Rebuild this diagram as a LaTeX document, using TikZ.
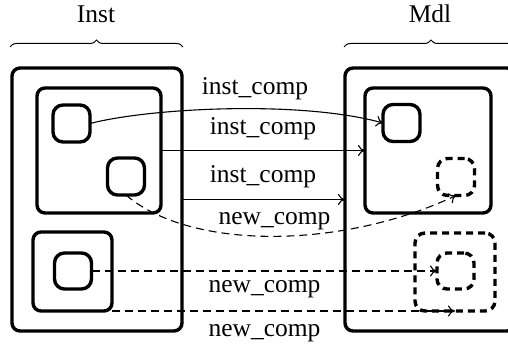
\documentclass[tikz,border=0pt]{standalone}
\usepackage{fontspec}
\setmainfont{Liberation Serif}
\usetikzlibrary{arrows.meta,decorations.pathreplacing}
\begin{document}
\begin{tikzpicture}[x=1pt,y=-1pt,
  box/.style={draw,line width=3.4pt,rounded corners=8pt,inner sep=0pt,outer sep=0pt},
  sq/.style={draw,line width=3.4pt,rounded corners=10pt,inner sep=0pt,outer sep=0pt},
  dsq/.style={sq,dash pattern=on 7pt off 5pt},
  conn/.style={line width=1.1pt,-{To[length=7pt,width=11pt]}},
  dconn/.style={conn,dash pattern=on 8pt off 5pt},
  lbl/.style={inner sep=0pt,anchor=base,font=\fontsize{25.5}{30}\selectfont},
  brc/.style={decorate,decoration={brace,amplitude=7pt},line width=1pt}]
\useasboundingbox (0,0) rectangle (508,344);
\clip (0,0) rectangle (508,344);
% left side
\node[box,minimum width=170pt,minimum height=263pt] (L) at (97,199.5) {};
\node[box,minimum width=124pt,minimum height=125pt] (LA) at (99,150.5) {};
\node[sq,minimum width=37pt,minimum height=37pt] (s1) at (71.5,123.5) {};
\node[sq,minimum width=37pt,minimum height=37pt] (s2) at (126,176.5) {};
\node[box,minimum width=79pt,minimum height=79pt] (LB) at (72.5,271.5) {};
\node[sq,minimum width=37pt,minimum height=36pt] (s3) at (73,271) {};
% right side
\node[box,minimum width=170pt,minimum height=263pt] (R) at (430,199.5) {};
\node[box,minimum width=126pt,minimum height=125pt] (RA) at (428,150.5) {};
\node[sq,minimum width=37pt,minimum height=37pt] (r1) at (401.5,123) {};
\node[dsq,minimum width=37pt,minimum height=37pt] (r2) at (456,177) {};
\node[dsq,minimum width=80pt,minimum height=78pt] (RB) at (455,272) {};
\node[dsq,minimum width=37pt,minimum height=36pt] (r4) at (455.5,271) {};
% braces and titles
\coordinate (bl1) at (10,47);
\coordinate (bl2) at (183,47);
\coordinate (br1) at (344,47);
\coordinate (br2) at (518,47);
\draw[brc] (bl1) -- (bl2);
\draw[brc] (br1) -- (br2);
\node[lbl] (tInst) at (96,23) {Inst};
\node[lbl] (tMdl) at (430,23) {Mdl};
% connectors
\draw[conn] (s1.east) .. controls (150,108) and (300,100) .. (r1.west);
\draw[conn] (LA.east) -- (RA.west);
\draw[conn] (L.east) -- (R.west);
\draw[dconn] (s2.south) .. controls (190,250) and (340,250) .. (r2.south);
\draw[dconn] (s3.east) -- (r4.west);
\draw[dconn] (LB.south) -- (RB.south);
% labels
\node[lbl] (l1) at (255,95) {inst\_comp};
\node[lbl] (l2) at (263,135) {inst\_comp};
\node[lbl] (l3) at (263,183) {inst\_comp};
\node[lbl] (l4) at (274.5,225) {new\_comp};
\node[lbl] (l5) at (264.5,293) {new\_comp};
\node[lbl] (l6) at (264.5,336) {new\_comp};
\end{tikzpicture}
\end{document}
